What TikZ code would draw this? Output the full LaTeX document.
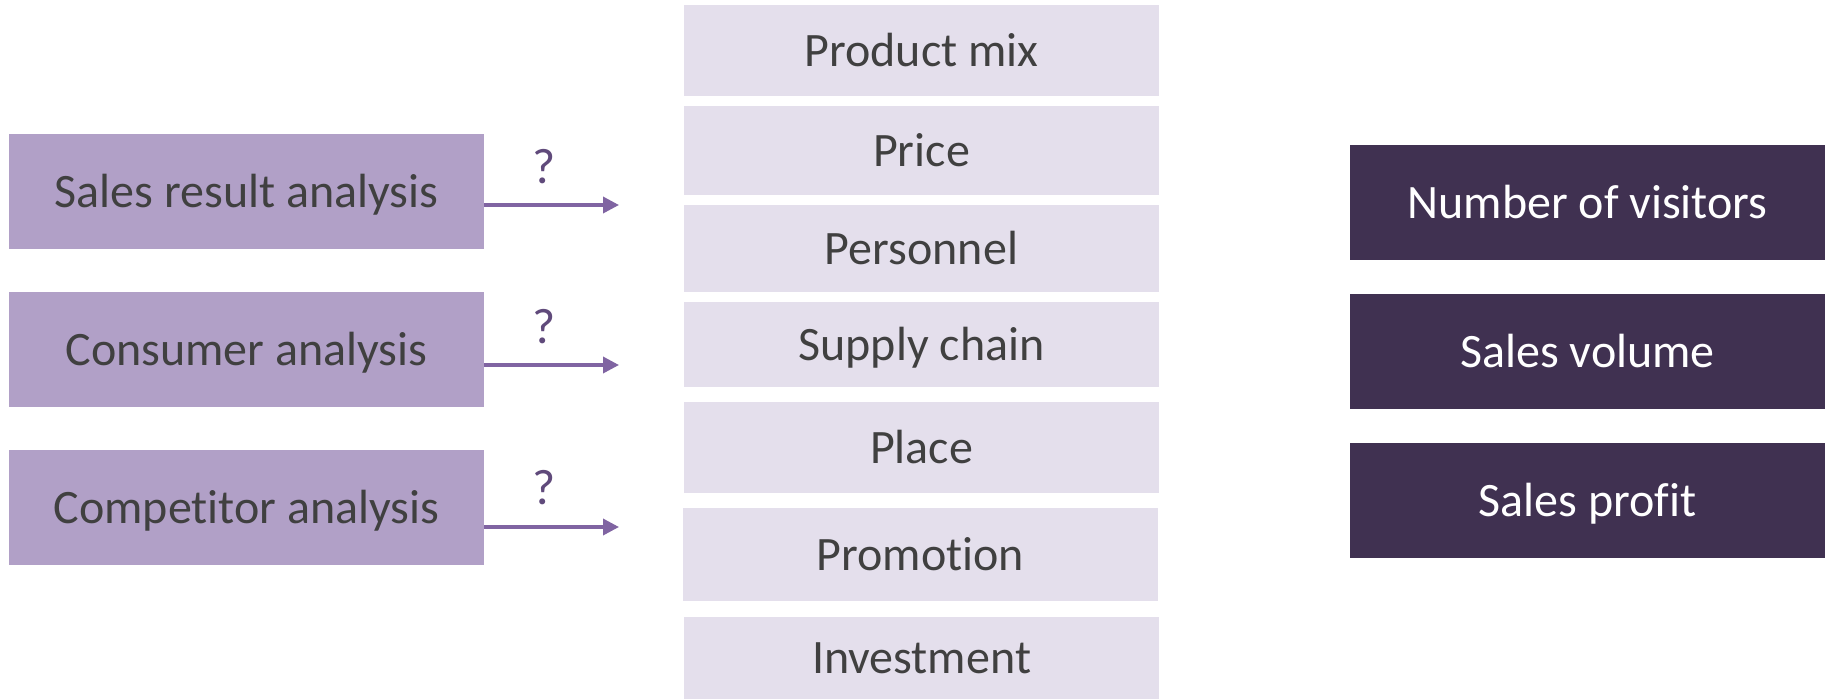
\documentclass[tikz,border=0pt]{standalone}
\usepackage{fontspec}
\setmainfont{Carlito}[Ligatures=NoCommon]
\usetikzlibrary{arrows.meta}
\definecolor{srcfill}{HTML}{B1A0C7}
\definecolor{leverfill}{HTML}{E4DFEC}
\definecolor{kpifill}{HTML}{403151}
\definecolor{txtgray}{HTML}{404040}
\definecolor{arrowpurple}{HTML}{8064A2}
\definecolor{qpurple}{HTML}{604A7B}

\begin{document}
\begin{tikzpicture}[x=1pt,y=-1pt,
  boxbase/.style={inner sep=0pt, outer sep=0pt, text height=31pt, text depth=0pt,
    font=\fontsize{48}{58}\selectfont, minimum width=475pt},
  srcbox/.style={boxbase, fill=srcfill, text=txtgray, minimum height=115pt},
  leverbox/.style={boxbase, fill=leverfill, text=txtgray},
  kpibox/.style={boxbase, fill=kpifill, text=white, minimum height=115pt},
  flow/.style={draw=arrowpurple, line width=3.5pt, -{Triangle[length=16pt,width=16pt]}},
  qmark/.style={inner sep=0pt, anchor=base, text=qpurple, font=\fontsize{50}{60}\selectfont}
]
\fill[white] (0,0) rectangle (1829,699);
\useasboundingbox (0,0) rectangle (1829,699);

% analysis sources
\node[srcbox] (src1) at (246.5,191.5) {Sales result analysis};
\node[srcbox] (src2) at (246.5,349.5) {Consumer analysis};
\node[srcbox] (src3) at (246.5,507.5) {Competitor analysis};

% levers
\node[leverbox, minimum height=91pt] (lev1) at (921.5,50.5) {Product mix};
\node[leverbox, minimum height=89pt] (lev2) at (921.5,150.5) {Price};
\node[leverbox, minimum height=87pt] (lev3) at (921.5,248.5) {Personnel};
\node[leverbox, minimum height=85pt] (lev4) at (921.5,344.5) {Supply chain};
\node[leverbox, minimum height=91pt] (lev5) at (921.5,447.5) {Place};
\node[leverbox, minimum height=93pt] (lev6) at (920.5,554.5) {Promotion};
\node[leverbox, minimum height=82pt] (lev7) at (921.5,658) {Investment};

% results
\node[kpibox] (kpi1) at (1587.5,202.5) {Number of visitors};
\node[kpibox] (kpi2) at (1587.5,351.5) {Sales volume};
\node[kpibox] (kpi3) at (1587.5,500.5) {Sales profit};

% arrows with question marks
\coordinate (end1) at (619,205);
\coordinate (end2) at (619,365);
\coordinate (end3) at (619,527);
\draw[flow] (src1.east |- end1) -- (end1);
\draw[flow] (src2.east |- end2) -- (end2);
\draw[flow] (src3.east |- end3) -- (end3);
\node[qmark] (q1) at (544,183) {?};
\node[qmark] (q2) at (544,343) {?};
\node[qmark] (q3) at (544,504) {?};
\end{tikzpicture}
\end{document}
